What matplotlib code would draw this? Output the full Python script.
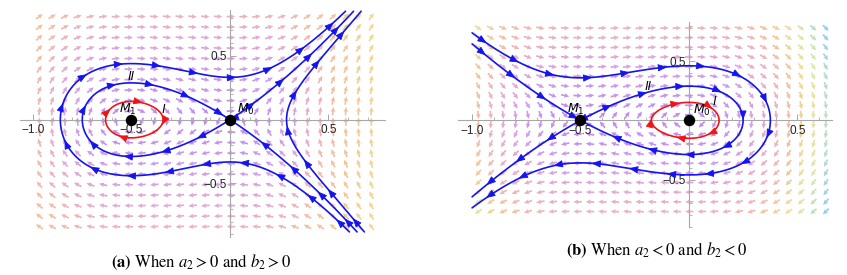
import numpy as np
import matplotlib
matplotlib.use("Agg")
import matplotlib.pyplot as plt
from matplotlib.colors import LinearSegmentedColormap
import contourpy

# ---------------- data ----------------
# system: x' = y, y' = SIGN*(x + 2x^2);  H = y^2/2 - SIGN*(x^2/2 + 2x^3/3)
SIGN_A = 1.0
SIGN_B = -1.0
# energy levels of drawn orbits
A_BLUE_LEVELS = [0.0, 0.055, -0.057]
A_RED_LEVELS = [-0.0315]
B_BLUE_LEVELS = [1.0 / 24.0, 0.106]
B_RED_LEVELS = [0.0115]
# equilibria
A_POINTS_X = [0.0, -0.5]
B_POINTS_X = [0.0, -0.5]
POINT_NAMES = ["$M_0$", "$M_1$"]
# tick labels
X_TICKS = [-1.0, -0.5, 0.5]
X_TICK_LABELS = ["\u22121.0", "\u22120.5", "0.5"]
Y_TICKS = [-0.5, 0.5]
Y_TICK_LABELS = ["\u22120.5", "0.5"]
CAPTION_A = r"$\mathbf{(a)}$ When $a_2 > 0$ and $b_2 > 0$"
CAPTION_B = r"$\mathbf{(b)}$ When $a_2 < 0$ and $b_2 < 0$"

FIG_W, FIG_H = 847, 275
fig = plt.figure(figsize=(FIG_W / 100, FIG_H / 100), dpi=100)

cmap = LinearSegmentedColormap.from_list("mma", [
    (0.00, "#bd86f3"), (0.18, "#cb9aee"), (0.38, "#e3aad4"), (0.52, "#f0b8b0"),
    (0.62, "#f3c596"), (0.72, "#f0dc96"), (0.84, "#d8e8ac"), (1.00, "#96ccf0")])

BLUE = "#1414f0"
RED = "#f01414"


def add_arrow(ax, p, d, color, ms=8.0):
    ax.annotate("", xy=(p[0], p[1]), xytext=(p[0] - d[0], p[1] - d[1]),
                arrowprops=dict(arrowstyle="-|>,head_length=0.7,head_width=0.28",
                                color=color, lw=0.6, mutation_scale=ms,
                                shrinkA=0, shrinkB=0), zorder=4)


def panel(rect_px, xlim, ylim, sign, fx, fy, ncol, nrow, mag_pts, pos_pts,
          blue_levels, red_levels, red_xr, pts_x, labels, caption, cap_xy):
    l, t, r, b = rect_px
    ax = fig.add_axes([l / FIG_W, (FIG_H - b) / FIG_H, (r - l) / FIG_W, (b - t) / FIG_H])
    ax.set_xlim(*xlim)
    ax.set_ylim(*ylim)
    sx = (r - l) / (xlim[1] - xlim[0])
    sy = (b - t) / (ylim[1] - ylim[0])

    # vector field
    dx = (fx[1] - fx[0]) / ncol
    dy = (fy[1] - fy[0]) / nrow
    gx = fx[0] + (np.arange(ncol) + 0.5) * dx
    gy = fy[0] + (np.arange(nrow) + 0.5) * dy
    X, Y = np.meshgrid(gx, gy)
    U = Y
    V = sign * (X + 2 * X ** 2)
    mag = np.hypot(U, V)
    pu, pv = U * sx, V * sy
    pn = np.hypot(pu, pv) + 1e-12
    L = 8.5
    Ud = L * pu / pn / sx
    Vd = L * pv / pn / sy
    cols = cmap(np.interp(mag, mag_pts, pos_pts))
    ax.quiver(X, Y, Ud, Vd, color=cols.reshape(-1, 4), angles="xy", scale_units="xy",
              scale=1, pivot="middle", units="dots", width=1.7, headwidth=2.8,
              headlength=3.0, headaxislength=2.7, zorder=1)

    # orbits
    xs = np.linspace(fx[0], fx[1], 800)
    ys = np.linspace(fy[0], fy[1], 800)
    XX, YY = np.meshgrid(xs, ys)
    HH = YY ** 2 / 2 - sign * (XX ** 2 / 2 + 2 * XX ** 3 / 3)
    gen = contourpy.contour_generator(xs, ys, HH)

    def draw_level(level, color, xr=None, spacing=38, offset=18):
        for seg in gen.lines(level):
            seg = np.asarray(seg)
            if len(seg) < 3:
                continue
            if xr is not None:
                mx = seg[:, 0].mean()
                if not (xr[0] < mx < xr[1]):
                    continue
            tx = np.gradient(seg[:, 0])
            ty = np.gradient(seg[:, 1])
            fu = seg[:, 1]
            fv = sign * (seg[:, 0] + 2 * seg[:, 0] ** 2)
            if np.sum(tx * fu + ty * fv) < 0:
                seg = seg[::-1]
            ax.plot(seg[:, 0], seg[:, 1], color=color, lw=1.2, zorder=3,
                    solid_capstyle="round")
            P = np.column_stack([seg[:, 0] * sx, seg[:, 1] * sy])
            ds = np.hypot(*np.diff(P, axis=0).T)
            s = np.concatenate([[0], np.cumsum(ds)])
            for tt in np.arange(offset, s[-1] - 6, spacing):
                i = int(np.searchsorted(s, tt))
                i = min(max(i, 1), len(seg) - 2)
                d = seg[i + 1] - seg[i - 1]
                dn = np.hypot(d[0] * sx, d[1] * sy) + 1e-12
                d = d / dn * 2.0
                add_arrow(ax, seg[i], d, color)

    for lv in blue_levels:
        draw_level(lv, BLUE)
    for lv in red_levels:
        draw_level(lv, RED, xr=red_xr, spacing=34, offset=10)

    # equilibria
    ax.plot(pts_x, [0] * len(pts_x), "o", color="black", ms=7.2, zorder=5)
    for (tx_, ty_, txt, kw) in labels:
        ax.text(tx_, ty_, txt, fontsize=9, zorder=6, family="Liberation Sans",
                math_fontfamily="dejavusans", **kw)

    # axes styling
    for sp in ["top", "right"]:
        ax.spines[sp].set_visible(False)
    for sp in ["left", "bottom"]:
        ax.spines[sp].set_position(("data", 0))
        ax.spines[sp].set_color("#a8a8a8")
        ax.spines[sp].set_linewidth(0.8)
        ax.spines[sp].set_zorder(2)
    ax.set_xticks(X_TICKS)
    ax.set_xticklabels(X_TICK_LABELS)
    ax.set_yticks(Y_TICKS)
    ax.set_yticklabels(Y_TICK_LABELS)
    minors_x = [v for v in np.round(np.arange(-1.0, xlim[1], 0.1), 2) if abs(v) > 1e-9 and abs(v * 2 - round(v * 2)) > 1e-6]
    minors_y = [v for v in np.round(np.arange(-0.9, ylim[1], 0.1), 2) if abs(v) > 1e-9 and abs(v * 2 - round(v * 2)) > 1e-6]
    ax.set_xticks(minors_x, minor=True)
    ax.set_yticks(minors_y, minor=True)
    ax.tick_params(which="major", direction="in", length=4, width=0.7, color="#a8a8a8",
                   labelsize=8.5, labelcolor="#222222", pad=2)
    ax.tick_params(which="minor", direction="in", length=2, width=0.6, color="#a8a8a8")
    ax.tick_params(axis="x", pad=3)
    for lab in ax.get_xticklabels() + ax.get_yticklabels():
        lab.set_family("Liberation Sans")
    ax.patch.set_visible(False)

    fig.text(cap_xy[0] / FIG_W, (FIG_H - cap_xy[1]) / FIG_H, caption, ha="center",
             va="center", fontsize=12, family="STIXGeneral", math_fontfamily="stix")
    return ax


lab_a = [
    (0.035, 0.02, POINT_NAMES[0], dict(ha="left", va="bottom")),
    (-0.52, 0.02, POINT_NAMES[1], dict(ha="center", va="bottom")),
    (-0.34, 0.03, "I", dict(ha="center", va="bottom", style="italic")),
    (-0.50, 0.29, "II", dict(ha="center", va="bottom", style="italic")),
]
panel((20, 10, 385, 237), (-1.066, 0.787), (-0.92, 0.86), SIGN_A,
      (-1.0, 0.75), (-0.88, 0.85), 27, 21,
      [0, 0.35, 0.75, 1.0, 1.4, 2.2], [0, 0.18, 0.42, 0.55, 0.63, 0.74],
      A_BLUE_LEVELS, A_RED_LEVELS, (-1.0, 0.0), A_POINTS_X, lab_a, CAPTION_A, (201, 262))

lab_b = [
    (0.02, 0.02, POINT_NAMES[0], dict(ha="left", va="bottom")),
    (-0.52, 0.03, POINT_NAMES[1], dict(ha="center", va="bottom")),
    (0.115, 0.105, "I", dict(ha="center", va="bottom", style="italic")),
    (-0.19, 0.23, "II", dict(ha="center", va="bottom", style="italic")),
]
panel((458, 22, 832, 227), (-1.065, 0.66), (-0.82, 0.83), SIGN_B,
      (-1.0, 0.66), (-0.81, 0.82), 29, 20,
      [0, 0.35, 0.6, 0.85, 1.05, 1.3, 1.6], [0, 0.18, 0.38, 0.52, 0.66, 0.82, 1.0],
      B_BLUE_LEVELS, B_RED_LEVELS, (-0.45, 0.5), B_POINTS_X, lab_b, CAPTION_B, (657, 250))

fig.savefig("out.png", dpi=100)
